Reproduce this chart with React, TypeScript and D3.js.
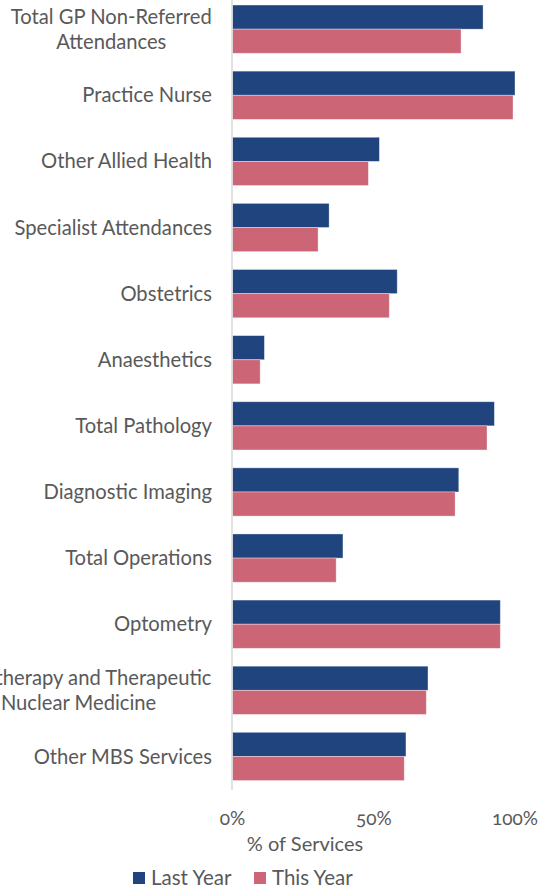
import React from "react";
import * as d3 from "d3";

const categories: string[][] = [
  ["Total GP Non-Referred", "Attendances"],
  ["Practice Nurse"],
  ["Other Allied Health"],
  ["Specialist Attendances"],
  ["Obstetrics"],
  ["Anaesthetics"],
  ["Total Pathology"],
  ["Diagnostic Imaging"],
  ["Total Operations"],
  ["Optometry"],
  ["Radiotherapy and Therapeutic", "Nuclear Medicine"],
  ["Other MBS Services"],
];
const lastYear = [88.7, 100, 52.0, 34.2, 58.3, 11.3, 92.7, 80.1, 39.1, 94.8, 69.2, 61.4];
const thisYear = [80.9, 99.3, 48.1, 30.3, 55.5, 9.8, 90.1, 78.8, 36.7, 94.8, 68.6, 60.8];
const ticks = [0, 50, 100];
const seriesNames = ["Last Year", "This Year"];
const colors = ["#1F447E", "#CC6677"];

const W = 543;
const H = 888;
const FONT = "Lato, 'Liberation Sans', sans-serif";
const TXT = "#595959";
const LABEL_SIZE = 20.2;

let ctx: CanvasRenderingContext2D | null = null;
function measure(t: string, size: number): number {
  if (!ctx) ctx = document.createElement("canvas").getContext("2d");
  if (!ctx) return t.length * size * 0.5;
  ctx.font = `${size}px ${FONT}`;
  return ctx.measureText(t).width;
}

export default function App() {
  const x = d3.scaleLinear().domain([0, 100]).range([232.5, 515]);
  const y = d3
    .scaleBand<number>()
    .domain(categories.map((_, i) => i))
    .range([-3.9, 789.5])
    .paddingInner(0.27)
    .paddingOuter(0.135);
  const inner = d3.scaleBand<number>().domain([0, 1]).range([0, y.bandwidth()]);
  const series = [lastYear, thisYear];

  return (
    <div style={{ position: "absolute", left: 0, top: 0 }}>
      <svg width={W} height={H} style={{ display: "block" }} fontFamily={FONT}>
        <rect width={W} height={H} fill="#fff" />
        {series.map((vals, s) =>
          vals.map((v, i) => (
            <rect
              key={`${s}-${i}`}
              x={x(0)}
              y={(y(i) as number) + (inner(s) as number)}
              width={x(v) - x(0)}
              height={inner.bandwidth()}
              fill={colors[s]}
              stroke="#ffffff"
              strokeOpacity={0.45}
              strokeWidth={0.8}
            />
          ))
        )}
        <line x1={232} x2={232} y1={0} y2={790} stroke="#d9d9d9" strokeWidth={1.5} />
        {categories.map((lines, i) => {
          const cy = (y(i) as number) + y.bandwidth() / 2;
          const n = lines.length;
          const maxW = Math.max(...lines.map((l) => measure(l, LABEL_SIZE)));
          const cx = 212 - maxW / 2;
          return (
            <g key={i}>
              {lines.map((l, j) => (
                <text
                  key={j}
                  x={n > 1 ? cx : 212}
                  y={cy + (j - (n - 1) / 2) * 25}
                  dy="0.35em"
                  textAnchor={n > 1 ? "middle" : "end"}
                  fontSize={LABEL_SIZE}
                  fill={TXT}
                >
                  {l}
                </text>
              ))}
            </g>
          );
        })}
        {ticks.map((t) => (
          <text
            key={t}
            x={x(t)}
            y={818}
            dy="0.35em"
            textAnchor="middle"
            fontSize={19}
            fill={TXT}
            style={{ fontVariantNumeric: "oldstyle-nums" }}
          >
            {d3.format(".0%")(t / 100)}
          </text>
        ))}
        <text x={305} y={844} dy="0.35em" textAnchor="middle" fontSize={20} fill={TXT}>
          % of Services
        </text>
        {seriesNames.map((nm, s) => {
          const lx = [133, 254][s];
          return (
            <g key={nm}>
              <rect x={lx} y={872} width={12} height={12} fill={colors[s]} />
              <text x={lx + 18} y={878} dy="0.35em" fontSize={20.5} fill={TXT}>
                {nm}
              </text>
            </g>
          );
        })}
      </svg>
    </div>
  );
}
